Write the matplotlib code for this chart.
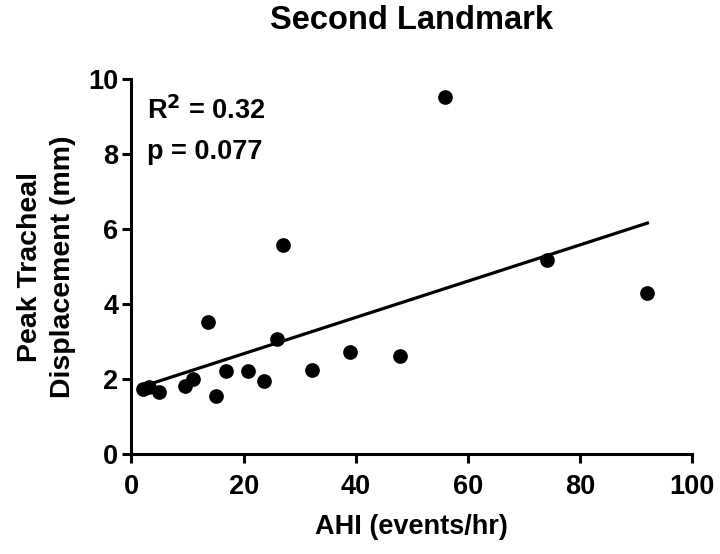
import numpy as np
import matplotlib
matplotlib.use("Agg")
import matplotlib.pyplot as plt

plt.rcParams['font.family'] = ['Liberation Sans', 'DejaVu Sans']
plt.rcParams['font.weight'] = 'bold'

# AHI vs peak tracheal displacement
ahi = [2.05, 3.2, 4.9, 9.5, 10.9, 13.6, 15.0, 16.9, 20.7, 23.7,
       25.9, 27.0, 32.1, 39.0, 47.9, 55.9, 74.0, 92.0]
disp = [1.73, 1.80, 1.65, 1.82, 1.99, 3.51, 1.56, 2.22, 2.21, 1.96,
        3.06, 5.57, 2.24, 2.71, 2.62, 9.53, 5.17, 4.30]
stats_text = ["R$^\\mathbf{2}$ = 0.32", "p = 0.077"]

x = np.array(ahi)
y = np.array(disp)
slope, intercept = np.polyfit(x, y, 1)
xfit = np.array([x.min(), x.max()])

fig = plt.figure(figsize=(7.2, 5.54), dpi=100)
ax = fig.add_axes([0.1826, 0.1805, 0.779, 0.6764])

ax.plot(xfit, intercept + slope * xfit, color='black', lw=2.3, zorder=2)
ax.scatter(x, y, s=112, color='black', linewidths=0, zorder=3, clip_on=False)

ax.set_xlim(0, 100)
ax.set_ylim(0, 10)
ax.set_xticks(np.arange(0, 101, 20))
ax.set_yticks(np.arange(0, 11, 2))

for side in ['top', 'right']:
    ax.spines[side].set_visible(False)
for side in ['left', 'bottom']:
    ax.spines[side].set_linewidth(2.2)
ax.tick_params(width=2.2, length=6.5, labelsize=19.5, direction='out')
ax.tick_params(axis='x', pad=8)
ax.tick_params(axis='y', pad=3)
for lab in ax.get_xticklabels() + ax.get_yticklabels():
    lab.set_fontweight('bold')

ax.set_xlabel("AHI (events/hr)", fontsize=19.5, fontweight='bold', labelpad=10)
ax.set_ylabel("Peak Tracheal\nDisplacement (mm)", fontsize=20.5,
              fontweight='bold', labelpad=9, linespacing=1.35)
ax.set_title("Second Landmark", fontsize=23.5, fontweight='bold', pad=36)

ax.text(0.027, 0.893, stats_text[0], transform=ax.transAxes, fontsize=19.5,
        fontweight='bold', va='baseline')
ax.text(0.027, 0.787, stats_text[1], transform=ax.transAxes, fontsize=19.5,
        fontweight='bold', va='baseline')

fig.savefig("out.png", dpi=100)
